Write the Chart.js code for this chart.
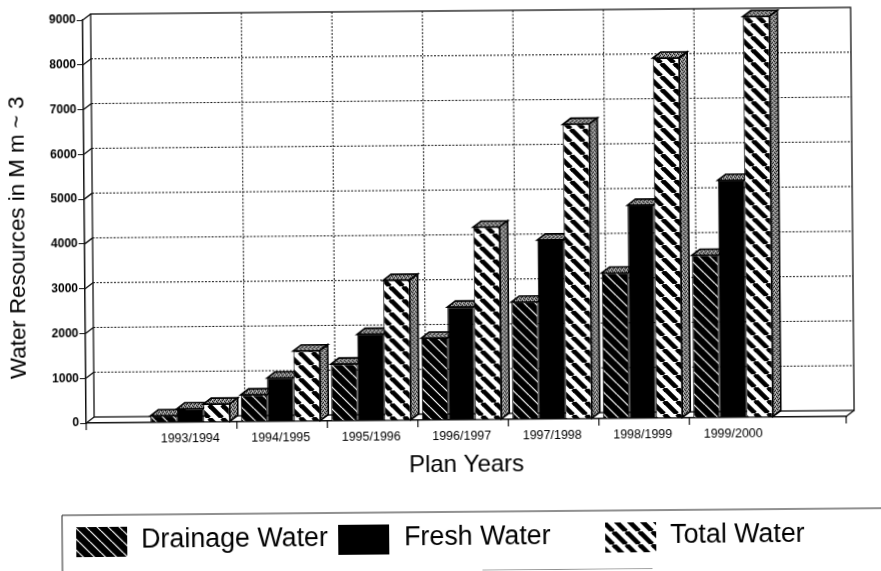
<!DOCTYPE html>
<html lang="en">
<head>
<meta charset="UTF-8" />
<title>Water Resources</title>
<script src="https://cdn.jsdelivr.net/npm/chart.js"></script>
<style>
  html, body { margin: 0; background: #fff; overflow: hidden; width: 881px; height: 571px; }
  /* the reference is a slightly crooked scan */
  #chart { display: block; transform: rotate(-0.5deg); }
</style>
</head>
<body>
<canvas id="chart" width="881" height="571"></canvas>

<script>
const planYears = ['1993/1994', '1994/1995', '1995/1996', '1996/1997', '1997/1998', '1998/1999', '1999/2000'];
const drainageWater = [150, 600, 1270, 1830, 2620, 3250, 3630];
const freshWater = [300, 970, 1930, 2520, 4000, 4760, 5300];
const totalWater = [400, 1570, 3130, 4300, 6580, 8040, 8950];
const seriesNames = ['Drainage Water', 'Fresh Water', 'Total Water'];
const font = '"Liberation Sans", Arial, sans-serif';

// depth of the fake 3D box, in pixels
const depthX = 8;
const depthY = -6;
// grid and ticks sit a little right of the bar groups
const gridShift = 1.5;

function hatch(size, bg, fg, width){
  const c = document.createElement('canvas');
  c.width = c.height = size;
  const g = c.getContext('2d');
  g.fillStyle = bg;
  g.fillRect(0, 0, size, size);
  g.strokeStyle = fg;
  g.lineWidth = width;
  [-size, 0, size].forEach(off => {
    g.beginPath();
    g.moveTo(off, 0);
    g.lineTo(off + size, size);
    g.stroke();
  });
  return g.createPattern(c, 'repeat');
}

function stipple(){
  const c = document.createElement('canvas');
  c.width = c.height = 4;
  const g = c.getContext('2d');
  g.fillStyle = '#8a8a8a';
  g.fillRect(0, 0, 4, 4);
  g.fillStyle = '#222';
  g.fillRect(0, 0, 1, 1);
  g.fillRect(2, 1, 1, 1);
  g.fillRect(1, 2, 1, 1);
  g.fillRect(3, 3, 1, 1);
  g.fillStyle = '#ccc';
  g.fillRect(2, 3, 1, 1);
  g.fillRect(3, 1, 1, 1);
  return g.createPattern(c, 'repeat');
}

const drainageFill = hatch(11, '#000', '#fff', 1.2);
const freshFill = '#000';
const totalFill = hatch(13, '#fff', '#000', 4.7);
const greyFill = stipple();
const fills = [drainageFill, freshFill, totalFill];

function face(ctx, pts, fill){
  ctx.beginPath();
  pts.forEach((p, i) => i ? ctx.lineTo(p[0], p[1]) : ctx.moveTo(p[0], p[1]));
  ctx.closePath();
  ctx.fillStyle = fill;
  ctx.fill();
  ctx.strokeStyle = '#000';
  ctx.lineWidth = 1.6;
  ctx.stroke();
}

// back wall, dotted grid and floor
const boxPlugin = {
  id: 'box',
  beforeDatasetsDraw(chart){
    const ctx = chart.ctx;
    const a = chart.chartArea;
    const x = chart.scales.x;
    const y = chart.scales.y;
    // boundaries between the year groups, the outer two have no mark in the reference
    const bounds = planYears.slice(0, -1).map((_, i) => x.getPixelForValue(i + 0.5) + gridShift);
    ctx.save();

    ctx.strokeStyle = '#111';
    ctx.lineWidth = 1;
    ctx.setLineDash([2, 1.5]);
    y.ticks.forEach(t => {
      if(t.value === 0 || t.value === 9000) return;
      const py = y.getPixelForValue(t.value) + depthY;
      ctx.beginPath();
      ctx.moveTo(a.left + depthX, py);
      ctx.lineTo(a.right + depthX, py);
      ctx.stroke();
    });
    bounds.forEach(b => {
      ctx.beginPath();
      ctx.moveTo(b + depthX, a.top + depthY);
      ctx.lineTo(b + depthX, a.bottom + depthY);
      ctx.stroke();
    });
    ctx.setLineDash([]);

    // wall outline, side wall edges, floor edges
    ctx.lineWidth = 1.3;
    ctx.strokeStyle = '#111';
    ctx.strokeRect(a.left + depthX, a.top + depthY, a.right - a.left, a.bottom - a.top);
    y.ticks.forEach(t => {
      const py = y.getPixelForValue(t.value);
      ctx.beginPath();
      ctx.moveTo(a.left, py);
      ctx.lineTo(a.left + depthX, py + depthY);
      ctx.stroke();
    });
    ctx.beginPath();
    ctx.moveTo(a.right, a.bottom);
    ctx.lineTo(a.right + depthX, a.bottom + depthY);
    ctx.stroke();

    // axis ticks
    ctx.lineWidth = 1.2;
    [x.left, x.right].concat(bounds).forEach(px => {
      ctx.beginPath();
      ctx.moveTo(px, a.bottom);
      ctx.lineTo(px, a.bottom + 7);
      ctx.stroke();
    });

    // top and side faces of the bars
    chart.data.datasets.forEach((ds, d) => {
      chart.getDatasetMeta(d).data.forEach(bar => {
        const l = bar.x - bar.width / 2;
        const r = bar.x + bar.width / 2;
        face(ctx, [[l, bar.y], [l + depthX, bar.y + depthY], [r + depthX, bar.y + depthY], [r, bar.y]], greyFill);
        if(d === 2){
          face(ctx, [[r, bar.y], [r + depthX, bar.y + depthY], [r + depthX, bar.base + depthY], [r, bar.base]], greyFill);
        }
      });
    });
    ctx.restore();
  }
};

// legend frame sits apart from the chart with uneven gaps, so it is placed by hand
const legendPlugin = {
  id: 'handLegend',
  afterDraw(chart){
    const ctx = chart.ctx;
    const swatchX = [74, 336, 603];
    const swatchY = 524;
    const textX = [139, 402, 668];
    ctx.save();
    ctx.strokeStyle = '#222';
    ctx.lineWidth = 1;
    ctx.beginPath();
    ctx.moveTo(890, 512);
    ctx.lineTo(60, 512);
    ctx.lineTo(60, 580);
    ctx.stroke();
    ctx.beginPath();
    ctx.moveTo(480, 571);
    ctx.lineTo(650, 571);
    ctx.stroke();
    seriesNames.forEach((name, i) => {
      ctx.fillStyle = fills[i];
      ctx.fillRect(swatchX[i], swatchY, 51, 30);
      ctx.fillStyle = '#000';
      ctx.font = '26.8px ' + font;
      ctx.textBaseline = 'middle';
      ctx.fillText(name, textX[i], swatchY + 14);
    });
    ctx.restore();
  }
};

new Chart(document.getElementById('chart'), {
  type: 'bar',
  data: {
    datasets: [drainageWater, freshWater, totalWater].map((values, i) => ({
      label: seriesNames[i],
      data: values.map((v, n) => ({ x: n, y: v })),
      backgroundColor: fills[i],
      borderColor: '#000',
      borderWidth: 1,
      barPercentage: 1,
      categoryPercentage: 0.878
    }))
  },
  plugins: [boxPlugin, legendPlugin],
  options: {
    responsive: false,
    animation: false,
    layout: { padding: { top: 17, right: 36, bottom: 91, left: 0 } },
    plugins: { legend: { display: false }, tooltip: { enabled: false } },
    scales: {
      x: {
        type: 'linear',
        offset: false,
        min: -1.149,
        max: 7.249,
        grid: { display: false },
        border: { color: '#111', width: 1.5 },
        afterBuildTicks: scale => { scale.ticks = planYears.map((_, i) => ({ value: i })); },
        afterFit: scale => { scale.height = 60; },
        ticks: {
          autoSkip: false,
          maxRotation: 0,
          padding: 1,
          color: '#000',
          font: { family: font, size: 12.5 },
          callback: value => planYears[value]
        },
        title: { display: true, text: 'Plan Years', color: '#000', font: { family: font, size: 24 }, padding: 0 }
      },
      y: {
        min: 0,
        max: 9000,
        afterFit: scale => { scale.width = 85; },
        grid: { drawOnChartArea: false, drawTicks: true, tickLength: 6, color: '#111' },
        border: { color: '#111', width: 1.5 },
        ticks: { stepSize: 1000, padding: 1, color: '#000', font: { family: font, size: 12, weight: 'bold' }, callback: value => String(value) },
        // trailing spaces push the title down the axis, it is not centred in the reference
        title: { display: true, text: 'Water Resources in M m ~ 3     ', color: '#000', font: { family: font, size: 22.3 }, padding: { top: 5, bottom: 0 } }
      }
    }
  }
});
</script>
</body>
</html>
